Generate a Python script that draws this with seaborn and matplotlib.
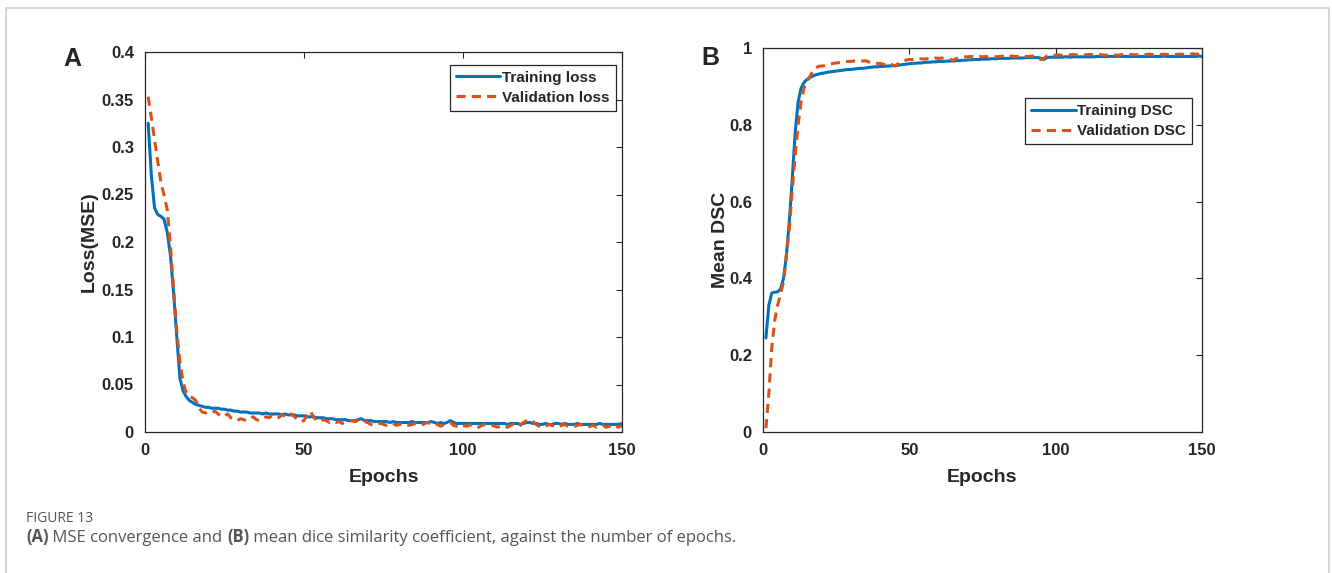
import pandas as pd
import matplotlib.pyplot as plt
import seaborn as sns
from matplotlib.lines import Line2D

# values, one per epoch (1..150)
epochs = list(range(1, 151))

train_loss = [
    0.325, 0.270, 0.236, 0.229, 0.227, 0.224, 0.210, 0.186, 0.146, 0.100,
    0.056, 0.043, 0.037, 0.033, 0.031, 0.029, 0.028, 0.027, 0.026, 0.026,
    0.025, 0.025, 0.025, 0.024, 0.024, 0.023, 0.023, 0.022, 0.022, 0.021,
    0.021, 0.021, 0.020, 0.020, 0.020, 0.020, 0.019, 0.020, 0.019, 0.019,
    0.019, 0.019, 0.018, 0.019, 0.018, 0.018, 0.018, 0.017, 0.017, 0.017,
    0.016, 0.016, 0.016, 0.015, 0.015, 0.015, 0.014, 0.014, 0.014, 0.013,
    0.013, 0.013, 0.013, 0.012, 0.012, 0.012, 0.013, 0.014, 0.012, 0.012,
    0.012, 0.011, 0.011, 0.011, 0.011, 0.011, 0.010, 0.011, 0.010, 0.010,
    0.010, 0.010, 0.010, 0.011, 0.010, 0.010, 0.010, 0.010, 0.010, 0.011,
    0.010, 0.009, 0.010, 0.009, 0.010, 0.012, 0.010, 0.009, 0.009, 0.009,
    0.009, 0.009, 0.009, 0.009, 0.009, 0.009, 0.009, 0.009, 0.009, 0.009,
    0.009, 0.009, 0.009, 0.008, 0.009, 0.009, 0.009, 0.008, 0.009, 0.010,
    0.010, 0.009, 0.009, 0.008, 0.008, 0.009, 0.008, 0.008, 0.009, 0.009,
    0.008, 0.009, 0.008, 0.008, 0.008, 0.009, 0.008, 0.008, 0.008, 0.008,
    0.008, 0.008, 0.009, 0.008, 0.008, 0.008, 0.008, 0.008, 0.008, 0.009,
]

val_loss = [
    0.353, 0.331, 0.308, 0.285, 0.263, 0.249, 0.234, 0.196, 0.150, 0.106,
    0.074, 0.052, 0.041, 0.037, 0.036, 0.033, 0.025, 0.021, 0.020, 0.021,
    0.020, 0.022, 0.019, 0.016, 0.017, 0.019, 0.015, 0.013, 0.012, 0.014,
    0.013, 0.012, 0.014, 0.016, 0.013, 0.012, 0.014, 0.016, 0.015, 0.017,
    0.014, 0.015, 0.018, 0.017, 0.015, 0.019, 0.016, 0.013, 0.011, 0.012,
    0.018, 0.022, 0.016, 0.012, 0.011, 0.013, 0.012, 0.010, 0.011, 0.010,
    0.011, 0.009, 0.010, 0.011, 0.012, 0.011, 0.012, 0.010, 0.011, 0.010,
    0.008, 0.007, 0.008, 0.009, 0.008, 0.007, 0.008, 0.009, 0.007, 0.008,
    0.009, 0.008, 0.007, 0.008, 0.009, 0.008, 0.007, 0.009, 0.010, 0.008,
    0.007, 0.008, 0.006, 0.008, 0.009, 0.010, 0.007, 0.006, 0.005, 0.007,
    0.006, 0.007, 0.008, 0.006, 0.005, 0.007, 0.008, 0.006, 0.007, 0.006,
    0.005, 0.007, 0.006, 0.005, 0.007, 0.008, 0.006, 0.007, 0.010, 0.012,
    0.013, 0.011, 0.008, 0.006, 0.007, 0.006, 0.008, 0.007, 0.005, 0.006,
    0.007, 0.008, 0.006, 0.005, 0.006, 0.007, 0.008, 0.006, 0.005, 0.006,
    0.007, 0.005, 0.006, 0.007, 0.005, 0.006, 0.004, 0.006, 0.005, 0.007,
]

train_dsc = [
    0.245, 0.330, 0.362, 0.364, 0.365, 0.372, 0.400, 0.460, 0.550, 0.660,
    0.780, 0.860, 0.895, 0.910, 0.918, 0.923, 0.927, 0.930, 0.932, 0.934,
    0.935, 0.937, 0.938, 0.939, 0.940, 0.941, 0.942, 0.943, 0.944, 0.944,
    0.945, 0.946, 0.947, 0.947, 0.948, 0.949, 0.950, 0.951, 0.951, 0.952,
    0.952, 0.953, 0.953, 0.954, 0.954, 0.955, 0.956, 0.957, 0.958, 0.959,
    0.960, 0.960, 0.961, 0.961, 0.962, 0.963, 0.963, 0.964, 0.964, 0.965,
    0.965, 0.965, 0.966, 0.966, 0.966, 0.967, 0.967, 0.968, 0.968, 0.969,
    0.969, 0.970, 0.970, 0.970, 0.971, 0.971, 0.971, 0.972, 0.972, 0.972,
    0.973, 0.973, 0.973, 0.973, 0.974, 0.974, 0.974, 0.974, 0.974, 0.975,
    0.975, 0.975, 0.975, 0.975, 0.973, 0.970, 0.975, 0.976, 0.976, 0.976,
    0.976, 0.976, 0.977, 0.977, 0.976, 0.977, 0.977, 0.977, 0.977, 0.977,
    0.977, 0.977, 0.977, 0.978, 0.978, 0.978, 0.977, 0.978, 0.978, 0.978,
    0.978, 0.978, 0.978, 0.978, 0.978, 0.978, 0.978, 0.978, 0.978, 0.978,
    0.978, 0.978, 0.978, 0.978, 0.978, 0.978, 0.979, 0.978, 0.978, 0.978,
    0.978, 0.978, 0.978, 0.978, 0.978, 0.978, 0.978, 0.978, 0.979, 0.978,
]

val_dsc = [
    0.010, 0.100, 0.220, 0.290, 0.330, 0.360, 0.390, 0.460, 0.530, 0.630,
    0.720, 0.800, 0.860, 0.895, 0.912, 0.925, 0.940, 0.948, 0.952, 0.953,
    0.954, 0.956, 0.958, 0.960, 0.961, 0.962, 0.963, 0.964, 0.965, 0.965,
    0.966, 0.966, 0.965, 0.966, 0.967, 0.964, 0.962, 0.961, 0.960, 0.960,
    0.958, 0.956, 0.955, 0.957, 0.953, 0.958, 0.963, 0.966, 0.969, 0.970,
    0.970, 0.971, 0.970, 0.972, 0.971, 0.972, 0.973, 0.972, 0.974, 0.973,
    0.974, 0.973, 0.972, 0.970, 0.968, 0.972, 0.975, 0.976, 0.977, 0.977,
    0.978, 0.977, 0.977, 0.978, 0.977, 0.978, 0.977, 0.978, 0.978, 0.977,
    0.978, 0.979, 0.978, 0.978, 0.979, 0.978, 0.978, 0.979, 0.978, 0.978,
    0.978, 0.979, 0.978, 0.974, 0.970, 0.973, 0.979, 0.981, 0.981, 0.981,
    0.982, 0.981, 0.982, 0.983, 0.982, 0.983, 0.982, 0.983, 0.983, 0.982,
    0.983, 0.983, 0.982, 0.983, 0.983, 0.982, 0.981, 0.982, 0.981, 0.982,
    0.981, 0.982, 0.983, 0.982, 0.983, 0.983, 0.982, 0.983, 0.984, 0.983,
    0.983, 0.984, 0.983, 0.983, 0.984, 0.983, 0.984, 0.983, 0.984, 0.984,
    0.983, 0.984, 0.984, 0.983, 0.984, 0.984, 0.985, 0.984, 0.984, 0.985,
]

x_ticks = [0, 50, 100, 150]
loss_ticks = [0, 0.05, 0.1, 0.15, 0.2, 0.25, 0.3, 0.35, 0.4]
loss_ticklabels = ['0', '0.05', '0.1', '0.15', '0.2', '0.25', '0.3', '0.35', '0.4']
dsc_ticks = [0, 0.2, 0.4, 0.6, 0.8, 1.0]
dsc_ticklabels = ['0', '0.2', '0.4', '0.6', '0.8', '1']

blue = '#0072BD'
orange = '#D95319'
ink = '#262626'

sns.set_style('white')
plt.rcParams['font.family'] = ['Liberation Sans', 'DejaVu Sans']

W, H = 1332, 573
fig = plt.figure(figsize=(W / 100, H / 100), dpi=100)
axA = fig.add_axes([145 / W, 1 - 432 / H, 477 / W, 380 / H])
axB = fig.add_axes([763 / W, 1 - 432 / H, 439 / W, 384 / H])


def draw_panel(ax, train, val, names, ylabel, yticks, yticklabels, ylim, leg_anchor, ylab_x):
    df = pd.DataFrame({
        'Epoch': epochs + epochs,
        'Value': train + val,
        'Series': [names[0]] * len(train) + [names[1]] * len(val),
    })
    sns.lineplot(data=df, x='Epoch', y='Value', hue='Series', style='Series',
                 palette=[blue, orange], dashes=['', (3, 2)], lw=2.2, ax=ax)
    ax.set_xlim(0, 150)
    ax.set_ylim(*ylim)
    ax.set_xticks(x_ticks)
    ax.set_xticklabels([str(t) for t in x_ticks])
    ax.set_yticks(yticks)
    ax.set_yticklabels(yticklabels)
    ax.tick_params(direction='in', top=True, right=True, length=4.5, width=0.8,
                   color=ink, labelsize=12, pad=8)
    for lab in ax.get_xticklabels() + ax.get_yticklabels():
        lab.set_fontweight('bold')
        lab.set_color(ink)
    for sp in ax.spines.values():
        sp.set_color(ink)
        sp.set_linewidth(0.9)
    ax.set_xlabel('Epochs', fontsize=14, fontweight='bold', color=ink)
    ax.set_ylabel(ylabel, fontsize=14, fontweight='bold', color=ink)
    ax.xaxis.set_label_coords(0.5, -0.097)
    ax.yaxis.set_label_coords(ylab_x, 0.5)
    handles, labels = ax.get_legend_handles_labels()
    leg = ax.legend(handles, labels, loc='upper right', bbox_to_anchor=leg_anchor,
                    frameon=True, fancybox=False, framealpha=1, edgecolor=ink,
                    handlelength=2.9, handletextpad=0.12, borderpad=0.4,
                    labelspacing=0.4, borderaxespad=0,
                    prop={'weight': 'bold', 'size': 11})
    leg.get_frame().set_linewidth(0.9)


draw_panel(axA, train_loss, val_loss, ['Training loss', 'Validation loss'],
           'Loss(MSE)', loss_ticks, loss_ticklabels, (0, 0.4), (0.987, 0.967), -0.099)
draw_panel(axB, train_dsc, val_dsc, ['Training DSC', 'Validation DSC'],
           'Mean DSC', dsc_ticks, dsc_ticklabels, (0, 1.0), (0.978, 0.87), -0.077)

fig.text(72 / W, 1 - 66 / H, 'A', fontsize=18, fontweight='bold', ha='center', va='baseline')
fig.text(710 / W, 1 - 65 / H, 'B', fontsize=18, fontweight='bold', ha='center', va='baseline')

# light frame around the figure
frame_kw = dict(transform=fig.transFigure, color='#cfcfcf', lw=1.2)
top = 1 - 7.5 / H
fig.add_artist(Line2D([6 / W, 6 / W], [0, top], **frame_kw))
fig.add_artist(Line2D([6 / W, 1329 / W], [top, top], **frame_kw))
fig.add_artist(Line2D([1329 / W, 1329 / W], [0, top], **frame_kw))

# caption
cap_font = ['Open Sans', 'DejaVu Sans']
cap_x = 26 / W
fig.text(cap_x, 1 - 522 / H, 'FIGURE 13', fontsize=10, color='#555555',
         family=cap_font, va='baseline')
parts = [('(A)', 'bold'), (' MSE convergence and ', 'normal'), ('(B)', 'bold'),
         (' mean dice similarity coefficient, against the number of epochs.', 'normal')]
fig.canvas.draw()
renderer = fig.canvas.get_renderer()
x = cap_x
for s, w in parts:
    t = fig.text(x, 1 - 542 / H, s, fontsize=12, fontweight=w, color='#555555',
                 family=cap_font, va='baseline')
    x += t.get_window_extent(renderer).width / fig.bbox.width

fig.savefig('out.png', dpi=100)
